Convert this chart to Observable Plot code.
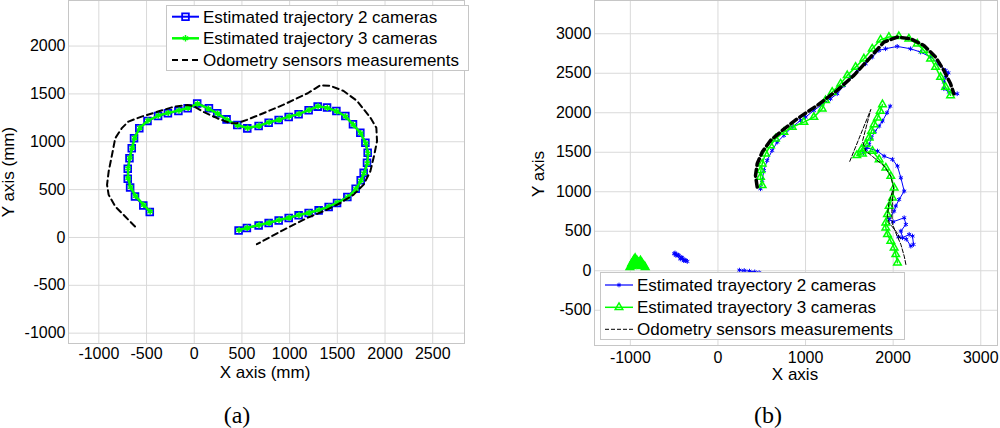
<!DOCTYPE html>
<html><head><meta charset="utf-8">
<script src="https://cdn.jsdelivr.net/npm/d3@7"></script>
<script src="https://cdn.jsdelivr.net/npm/@observablehq/plot@0.6"></script>
<style>
body{margin:0;background:#fff;}
#wrap{position:relative;width:1000px;height:428px;overflow:hidden;font-family:"Liberation Sans",Arial,sans-serif;color:#000;}
.abs{position:absolute;white-space:nowrap;}
.lab{font-size:17px;transform:translate(-50%,-50%);}
.cap{font-family:"Liberation Serif","Times New Roman",serif;font-size:24px;transform:translate(-50%,-50%);}
</style></head><body><div id="wrap"></div>
<script>
// ---------- Panel (a) data (mm) ----------
const aTicksX = [-1000,-500,0,500,1000,1500,2000,2500];
const aTicksY = [-1000,-500,0,500,1000,1500,2000];
const aTwoCam = [[-466,265],[-534,334],[-621,428],[-672,522],[-697,613],[-697,717],[-679,828],[-655,933],[-631,1037],[-576,1142],[-490,1218],[-379,1270],[-276,1298],[-166,1322],[-69,1350],[31,1400],[154,1350],[241,1297],[339,1234],[451,1175],[556,1140],[675,1164],[780,1199],[885,1227],[990,1259],[1094,1287],[1199,1329],[1294,1367],[1392,1357],[1490,1322],[1584,1269],[1664,1182],[1741,1094],[1794,990],[1818,885],[1811,780],[1776,675],[1745,598],[1692,510],[1605,423],[1497,360],[1409,318],[1304,283],[1199,255],[1094,231],[990,203],[885,178],[780,150],[675,126],[552,98],[465,73]];
const aThreeCam = [[-462,270],[-530,340],[-615,432],[-668,528],[-692,620],[-693,722],[-675,832],[-650,938],[-625,1042],[-570,1146],[-485,1222],[-375,1274],[-272,1302],[-160,1326],[-64,1355],[34,1398],[150,1346],[246,1294],[344,1230],[455,1172],[560,1143],[679,1168],[784,1203],[889,1231],[994,1263],[1098,1291],[1203,1333],[1298,1370],[1396,1354],[1494,1318],[1588,1264],[1668,1177],[1745,1090],[1798,985],[1822,880],[1815,775],[1780,670],[1748,594],[1695,506],[1608,420],[1500,364],[1412,322],[1308,287],[1203,259],[1098,235],[994,207],[889,182],[784,154],[679,130],[556,102],[469,77]];
const aOdometry = [[-621,115],[-724,219],[-828,324],[-897,445],[-914,550],[-897,689],[-862,863],[-828,1037],[-759,1142],[-690,1211],[-552,1263],[-379,1316],[-207,1368],[-69,1385],[0,1368],[103,1309],[241,1246],[379,1194],[448,1194],[552,1229],[724,1298],[931,1385],[1190,1507],[1322,1591],[1427,1584],[1566,1531],[1706,1427],[1846,1252],[1909,1147],[1916,1007],[1888,867],[1846,692],[1776,552],[1671,448],[1531,360],[1392,290],[1182,203],[937,80],[657,-70]];

// ---------- Panel (b) data ----------
const bTicksX = [-1000,0,1000,2000,3000];
const bTicksY = [-500,0,500,1000,1500,2000,2500,3000];
const bTwoCamUpper = [[486,1038],[505,1143],[524,1270],[562,1397],[619,1523],[677,1629],[753,1713],[848,1819],[943,1903],[1000,1945],[1095,2030],[1190,2105],[1285,2177],[1361,2241],[1438,2346],[1514,2451],[1590,2536],[1685,2620],[1761,2705],[1837,2789],[1913,2810],[2046,2840],[2199,2810],[2313,2768],[2427,2705],[2522,2620],[2598,2536],[2630,2505],[2600,2450],[2579,2388],[2579,2304],[2636,2262],[2731,2241]];
const bTwoCamLower = [[1966,2084],[1930,2000],[1878,1895],[1840,1831],[1790,1760],[1753,1684],[1726,1599],[1688,1536],[1661,1494],[1700,1560],[1821,1515],[1897,1451],[1992,1409],[2049,1325],[2088,1177],[2126,1008],[2068,903],[2030,819],[2011,755],[1954,650],[2000,620],[2126,671],[2145,586],[2088,502],[2107,418],[2183,460],[2221,439],[2232,333],[2202,312],[2150,400],[2060,430]];
const bTwoCamBlobA = [[-500,215],[-470,205],[-445,190],[-420,170],[-400,150],[-375,135],[-350,118],[-365,130],[-410,165],[-455,200],[-490,225],[-480,195],[-430,150],[-390,128]];
const bTwoCamBlobB = [[245,8],[300,3],[360,-5],[420,-14],[470,-24]];
const bThreeCamUpper = [[505,1080],[486,1186],[490,1270],[505,1354],[543,1481],[600,1586],[657,1671],[753,1755],[848,1819],[981,1882],[1095,1945],[1190,2051],[1228,2156],[1304,2262],[1400,2367],[1476,2473],[1571,2578],[1666,2684],[1761,2810],[1856,2924],[1951,2958],[2065,2966],[2179,2937],[2275,2873],[2351,2789],[2427,2684],[2484,2578],[2541,2451],[2598,2325],[2655,2219]];
const bThreeCamLower = [[2049,101],[2030,207],[2011,291],[1973,376],[1935,460],[1916,544],[1916,608],[1935,713],[1954,819],[1992,924],[2011,1051],[1973,1198],[1916,1304],[1840,1409],[1764,1515],[1650,1480],[1585,1460],[1640,1540],[1688,1600],[1726,1684],[1753,1768],[1783,1852],[1821,1937],[1852,2021],[1878,2105]];
const bThreeCamBlob = [[-1005,45],[-985,90],[-962,135],[-945,160],[-925,130],[-905,105],[-885,130],[-868,100],[-848,70],[-830,45],[-875,55],[-930,65],[-980,55],[-950,100],[-900,80]];
const bOdometryThick = [[448,1059],[429,1207],[448,1354],[505,1502],[600,1650],[734,1776],[905,1924],[1133,2093],[1361,2283],[1552,2473],[1742,2705],[1894,2895],[2046,2958],[2199,2937],[2351,2852],[2484,2705],[2579,2536],[2655,2367],[2693,2241]];
const bOdometryThin = [[2145,80],[2126,186],[2088,333],[2030,480],[1990,600],[1985,750],[1992,882],[2004,1051],[1973,1198],[1897,1325],[1783,1430],[1688,1515],[1650,1641],[1745,2042],[1498,1367]];
const bOdometryThin2 = [[1992,1008],[1950,850],[1935,700],[1954,608],[2030,502],[2088,397]];

// ---------- texts ----------
const legendA = ["Estimated trajectory 2 cameras","Estimated trajectory 3 cameras","Odometry sensors measurements"];
const legendB = ["Estimated trayectory 2 cameras","Estimated trayectory 3 cameras","Odometry sensors measurements"];

const BLUE = "#0000ff", GREEN = "#00ff00";
const fmt = d => String(d);
const px = d => d[0], py = d => d[1];
const wrap = document.getElementById("wrap");

function base(ticksX, ticksY, padX, padY) {
  return [
    Plot.gridX(ticksX, {stroke: "#d9d9d9", strokeOpacity: 1}),
    Plot.gridY(ticksY, {stroke: "#d9d9d9", strokeOpacity: 1}),
    Plot.frame({stroke: "#c6c6c6"}),
    Plot.axisX({ticks: ticksX, tickFormat: fmt, tickSize: 0, tickPadding: padX, label: null}),
    Plot.axisY({ticks: ticksY, tickFormat: fmt, tickSize: 0, tickPadding: padY, label: null})
  ];
}

const plotA = Plot.plot({
  width: 500, height: 428,
  marginLeft: 68, marginRight: 36, marginTop: 0, marginBottom: 85,
  x: {domain: [-1318, 2833]},
  y: {domain: [-1108, 2476]},
  style: {fontFamily: "Liberation Sans, Arial, sans-serif", fontSize: "16px", color: "#000", background: "transparent"},
  marks: [
    ...base(aTicksX, aTicksY, 4, 3),
    Plot.line(aTwoCam, {x: px, y: py, stroke: BLUE, strokeWidth: 2}),
    Plot.dot(aTwoCam, {x: px, y: py, symbol: "square", r: 3.8, stroke: BLUE, strokeWidth: 1.8, fill: "none"}),
    Plot.line(aThreeCam, {x: px, y: py, stroke: GREEN, strokeWidth: 2.5}),
    Plot.dot(aThreeCam, {x: px, y: py, symbol: "asterisk", r: 3, stroke: GREEN, strokeWidth: 1.5}),
    Plot.line(aOdometry, {x: px, y: py, stroke: "#000", strokeWidth: 2, strokeDasharray: "6,4"})
  ]
});
plotA.style.position = "absolute"; plotA.style.left = "0px"; plotA.style.top = "0px";
wrap.appendChild(plotA);

const bLine2 = (data) => [
  Plot.line(data, {x: px, y: py, stroke: BLUE, strokeWidth: 1}),
  Plot.dot(data, {x: px, y: py, symbol: "asterisk", r: 2.2, stroke: BLUE, strokeWidth: 1})
];
const bLine3 = (data, fill = "none") => [
  Plot.line(data, {x: px, y: py, stroke: GREEN, strokeWidth: 1.5}),
  Plot.dot(data, {x: px, y: py, symbol: "triangle", r: 2.8, stroke: GREEN, strokeWidth: 1.5, fill})
];

const plotB = Plot.plot({
  width: 500, height: 428,
  marginLeft: 94, marginRight: 3, marginTop: 0, marginBottom: 83,
  x: {domain: [-1409, 3191]},
  y: {domain: [-946, 3421]},
  style: {fontFamily: "Liberation Sans, Arial, sans-serif", fontSize: "16px", color: "#000", background: "transparent"},
  marks: [
    ...base(bTicksX, bTicksY, 6, 3),
    ...bLine2(bTwoCamUpper), ...bLine2(bTwoCamLower), ...bLine2(bTwoCamBlobA), ...bLine2(bTwoCamBlobB),
    ...bLine3(bThreeCamUpper), ...bLine3(bThreeCamLower), ...bLine3(bThreeCamBlob, GREEN),
    Plot.line(bOdometryThick, {x: px, y: py, stroke: "#000", strokeWidth: 3.5, strokeDasharray: "7,4"}),
    Plot.line(bOdometryThin, {x: px, y: py, stroke: "#000", strokeWidth: 1, strokeDasharray: "4,2"}),
    Plot.line(bOdometryThin2, {x: px, y: py, stroke: "#000", strokeWidth: 1, strokeDasharray: "4,2"})
  ]
});
plotB.style.position = "absolute"; plotB.style.left = "500px"; plotB.style.top = "0px";
wrap.appendChild(plotB);

// ---------- legends ----------
function legend(left, top, w, h, rows, labels, styles) {
  const svg = d3.select(wrap).append("svg")
    .attr("width", w + 2).attr("height", h + 2)
    .style("position", "absolute").style("left", (left - 1) + "px").style("top", (top - 1) + "px");
  svg.append("rect").attr("x", 1.5).attr("y", 1.5).attr("width", w - 1).attr("height", h - 1)
    .attr("fill", "#fff").attr("stroke", "#c6c6c6");
  labels.forEach((t, i) => {
    const s = styles[i], cy = rows[i] + 1;
    svg.append("line").attr("x1", s.x1).attr("x2", s.x2).attr("y1", cy).attr("y2", cy)
      .attr("stroke", s.color).attr("stroke-width", s.width).attr("stroke-dasharray", s.dash || null);
    if (s.symbol) {
      svg.append("path").attr("d", d3.symbol(s.symbol, s.size)())
        .attr("transform", `translate(${(s.x1 + s.x2) / 2},${cy})`)
        .attr("fill", "none").attr("stroke", s.color).attr("stroke-width", s.mw);
    }
    svg.append("text").attr("x", s.tx).attr("y", cy).attr("dy", "0.36em")
      .attr("font-family", "Liberation Sans, Arial, sans-serif").attr("font-size", 17).text(t);
  });
}
legend(166, 5, 303, 66, [11.7, 33.3, 55], legendA, [
  {x1: 7, x2: 34, color: BLUE, width: 2, symbol: d3.symbolSquare, size: 45, mw: 1.8, tx: 38},
  {x1: 7, x2: 34, color: GREEN, width: 2.5, symbol: d3.symbolAsterisk, size: 28, mw: 1.5, tx: 38},
  {x1: 7, x2: 34, color: "#000", width: 2, dash: "6,4", tx: 38}
]);
legend(600, 272, 305, 68, [13, 35.3, 57.3], legendB, [
  {x1: 6, x2: 34, color: BLUE, width: 1.2, symbol: d3.symbolAsterisk, size: 15, mw: 1, tx: 38},
  {x1: 6, x2: 34, color: GREEN, width: 1.5, symbol: d3.symbolTriangle, size: 25, mw: 1.5, tx: 38},
  {x1: 6, x2: 34, color: "#000", width: 1, dash: "4,2", tx: 38}
]);

// ---------- axis labels & captions ----------
function label(text, x, y, cls, rot) {
  const d = document.createElement("div");
  d.className = "abs " + cls;
  d.textContent = text;
  d.style.left = x + "px"; d.style.top = y + "px";
  if (rot) d.style.transform = "translate(-50%,-50%) rotate(-90deg)";
  wrap.appendChild(d);
}
label("X axis (mm)", 265, 373, "lab");
label("Y axis (mm)", 9, 172, "lab", true);
label("X axis", 795, 375, "lab");
label("Y axis", 539, 174, "lab", true);
label("(a)", 237, 415, "cap");
label("(b)", 768, 415, "cap");
</script></body></html>
